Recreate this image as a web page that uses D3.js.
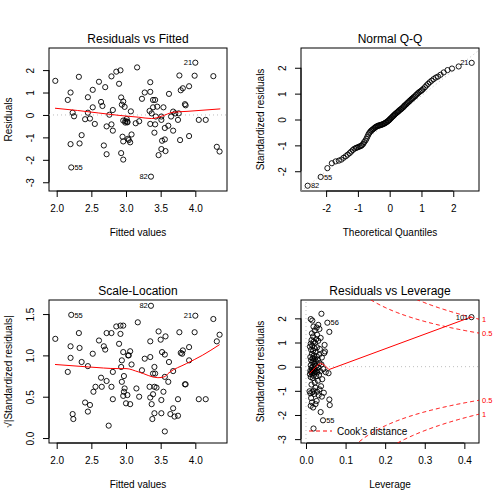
<!DOCTYPE html>
<html><head><meta charset="utf-8">
<script src="https://cdn.jsdelivr.net/npm/d3@7"></script>
<style>body{margin:0;background:#fff}svg{display:block;background:#fff}</style>
</head><body><svg id="c" width="504" height="504"></svg>
<script>
// ---------- DATA ----------
// Panel 1: Residuals vs Fitted
const fittedVals = [1.98,2.20,2.16,2.23,2.25,2.20,2.21,2.32,2.45,2.45,
  2.41,2.36,2.33,2.52,2.52,2.48,2.55,2.61,2.64,2.66,
  2.70,2.68,2.72,2.72,2.76,2.81,2.79,2.86,2.92,2.90,
  2.79,2.81,2.93,2.96,2.94,2.98,2.96,2.99,3.01,3.02,
  2.95,2.96,3.03,3.04,3.06,3.08,3.07,2.93,2.96,3.16,
  3.14,3.19,3.23,3.27,3.35,3.35,3.34,3.35,3.37,3.39,
  3.39,3.42,3.43,3.45,3.42,3.41,3.36,3.47,3.51,3.51,
  3.51,3.52,3.56,3.54,3.56,3.57,3.62,3.61,3.65,3.68,
  3.68,3.71,3.75,3.76,3.77,3.79,3.82,3.78,3.85,3.86,
  3.91,3.91,4.00,3.99,4.05,4.15,4.26,4.31,4.35,2.99,3.02];
const residVals = [1.52,1.00,0.67,0.10,-0.06,-1.30,-2.34,1.70,0.79,0.10,
  -0.19,-0.90,-1.27,1.12,0.34,-0.16,-0.40,1.48,0.58,0.40,
  1.24,-1.36,-1.75,-0.51,0.01,0.22,1.72,1.93,1.99,1.39,
  -0.42,-0.70,0.78,0.60,0.46,0.36,-0.25,-0.34,-0.18,-0.33,
  -0.97,-1.18,-1.06,-1.12,-1.22,-0.87,0.16,-1.70,-1.99,2.12,
  -0.37,-0.28,0.72,1.00,1.46,1.03,0.18,-0.40,0.07,0.34,
  0.67,0.67,-0.07,0.37,-0.42,-0.79,-2.75,-1.79,-0.07,-0.22,
  -1.52,-1.15,-1.09,0.34,-0.58,-1.61,0.94,-0.48,-0.07,0.15,
  -0.70,0.07,-0.22,0.07,1.76,1.10,1.19,-1.12,0.48,0.43,
  1.28,-0.94,2.33,1.75,-0.22,-0.22,1.73,-1.42,-1.63,-0.27,-0.30];
const residLabels = [[6,"55"],[66,"82"],[92,"21"]]; // [index, label]
const residSmoothX = [1.976,2.30,2.60,2.90,3.18,3.37,3.51,3.68,3.88,4.36];
const residSmoothY = [0.30,0.20,0.09,-0.02,-0.10,-0.16,-0.06,0.12,0.16,0.27];

// Panel 2: Normal Q-Q
const qqTheo = [-2.58,-2.17,-1.96,-1.82,-1.70,-1.60,-1.52,-1.45,-1.38,-1.32,
  -1.26,-1.21,-1.16,-1.11,-1.06,-1.02,-0.98,-0.94,-0.90,-0.87,
  -0.83,-0.80,-0.76,-0.73,-0.70,-0.67,-0.64,-0.61,-0.58,-0.55,
  -0.52,-0.49,-0.46,-0.44,-0.41,-0.38,-0.36,-0.33,-0.30,-0.28,
  -0.25,-0.23,-0.20,-0.17,-0.15,-0.12,-0.10,-0.07,-0.05,-0.02,0.00,
  0.02,0.05,0.07,0.10,0.12,0.15,0.17,0.20,0.23,0.25,
  0.28,0.30,0.33,0.36,0.38,0.41,0.44,0.46,0.49,0.52,
  0.55,0.58,0.61,0.64,0.67,0.70,0.73,0.76,0.80,0.83,
  0.87,0.90,0.94,0.98,1.02,1.06,1.11,1.16,1.21,1.26,
  1.32,1.38,1.45,1.52,1.60,1.70,1.82,1.96,2.17,2.58];
const qqStd = [-2.56,-2.22,-1.88,-1.69,-1.62,-1.59,-1.55,-1.48,-1.42,-1.36,
  -1.30,-1.24,-1.18,-1.13,-1.10,-1.08,-1.06,-1.04,-1.02,-0.99,
  -0.94,-0.87,-0.81,-0.74,-0.66,-0.58,-0.52,-0.47,-0.43,-0.40,
  -0.37,-0.34,-0.31,-0.29,-0.27,-0.25,-0.24,-0.23,-0.22,-0.21,
  -0.20,-0.19,-0.17,-0.16,-0.14,-0.12,-0.10,-0.08,-0.05,-0.03,0.00,
  0.03,0.06,0.09,0.12,0.15,0.18,0.21,0.24,0.27,0.29,
  0.32,0.35,0.38,0.40,0.43,0.46,0.49,0.53,0.56,0.59,
  0.63,0.66,0.70,0.73,0.77,0.80,0.83,0.87,0.90,0.95,
  0.99,1.03,1.07,1.10,1.14,1.19,1.25,1.32,1.38,1.44,
  1.50,1.56,1.62,1.66,1.73,1.82,1.91,1.97,2.05,2.19];
const qqLabels = [[0,"82"],[1,"55"],[100,"21"]];
const qqLineX = [-2.79, 2.81];
const qqLineY = [-2.77, 2.68];

// Panel 3: Scale-Location
const slFitted = [1.98,2.20,2.20,2.16,2.23,2.24,2.21,2.32,2.33,2.36,
  2.45,2.41,2.45,2.48,2.52,2.53,2.56,2.61,2.64,2.65,
  2.68,2.70,2.72,2.72,2.75,2.79,2.81,2.79,2.81,2.86,
  2.92,2.96,2.90,2.92,2.96,2.94,2.93,2.97,2.94,2.98,
  2.97,2.96,3.00,3.02,3.03,3.04,3.06,3.08,3.06,3.17,
  3.15,3.19,3.23,3.27,3.35,3.35,3.34,3.35,3.37,3.38,
  3.39,3.39,3.41,3.42,3.41,3.44,3.41,3.36,3.47,3.50,
  3.51,3.51,3.52,3.56,3.54,3.56,3.57,3.56,3.62,3.61,
  3.64,3.68,3.68,3.70,3.75,3.75,3.77,3.79,3.81,3.82,
  3.85,3.86,3.91,3.91,4.00,3.99,4.05,4.15,4.26,4.31,4.35];
const slSqrt = [1.20,1.11,0.97,0.80,0.29,0.23,1.49,1.27,1.09,0.92,
  0.87,0.43,0.32,0.40,1.02,0.56,0.62,1.18,0.73,0.62,
  1.11,1.07,1.27,0.69,0.15,0.62,0.80,1.27,0.47,1.35,
  1.36,1.36,1.14,1.26,1.04,0.94,0.86,0.75,0.68,0.60,
  0.56,0.51,0.42,0.52,1.00,1.00,1.05,0.89,0.41,1.40,
  0.60,0.50,0.82,0.96,1.17,0.98,0.62,0.49,0.41,0.23,
  0.53,0.78,0.86,0.78,0.62,0.61,0.30,1.60,1.29,1.19,
  0.46,0.30,1.04,1.01,0.56,0.74,1.23,0.08,0.92,0.68,
  0.29,0.81,0.36,0.26,0.47,0.27,1.28,1.03,1.02,1.06,
  0.65,0.65,1.10,0.94,1.48,1.28,0.47,0.47,1.44,1.17,1.25];
const slLabels = [[6,"55"],[67,"82"],[94,"21"]];
const slSmoothX = [1.976,2.46,2.89,3.00,3.18,3.46,3.55,3.62,3.87,4.10,4.35];
const slSmoothY = [0.89,0.86,0.84,0.84,0.80,0.73,0.74,0.79,0.90,1.00,1.13];

// Panel 4: Residuals vs Leverage
const levStd = [-2.56,-2.22,-1.88,-1.69,-1.62,-1.59,-1.55,-1.48,-1.42,-1.36,
  -1.30,-1.24,-1.18,-1.13,-1.10,-1.08,-1.06,-1.04,-1.02,-0.99,
  -0.94,-0.87,-0.81,-0.74,-0.66,-0.58,-0.52,-0.47,-0.43,-0.40,
  -0.37,-0.34,-0.31,-0.29,-0.27,-0.25,-0.24,-0.23,-0.22,-0.21,
  -0.20,-0.19,-0.17,-0.16,-0.14,-0.12,-0.10,-0.08,-0.05,-0.03,0.00,
  0.03,0.06,0.09,0.12,0.15,0.18,0.21,0.24,0.27,0.29,
  0.32,0.35,0.38,0.40,0.43,0.46,0.49,0.53,0.56,0.59,
  0.63,0.66,0.70,0.73,0.77,0.80,0.83,0.87,0.90,0.95,
  0.99,1.03,1.07,1.10,1.14,1.19,1.25,1.32,1.38,1.44,
  1.50,1.56,1.62,1.66,1.73,1.82,1.91,1.97,2.05,2.19];
const levHat = [0.019,0.043,0.037,0.018,0.012,0.060,0.024,0.015,0.027,0.059,
  0.013,0.040,0.032,0.021,0.011,0.045,0.016,0.028,0.009,0.019,
  0.034,0.024,0.038,0.014,0.022,0.030,0.041,0.017,0.012,0.026,
  0.019,0.033,0.010,0.015,0.057,0.021,0.028,0.050,0.013,0.017,
  0.024,0.036,0.011,0.020,0.029,0.016,0.044,0.022,0.014,0.031,0.018,
  0.026,0.012,0.039,0.021,0.034,0.016,0.025,0.019,0.013,0.030,
  0.022,0.017,0.040,0.011,0.027,0.020,0.033,0.015,0.046,0.024,
  0.048,0.018,0.013,0.035,0.021,0.028,0.010,0.016,0.047,0.012,
  0.023,0.019,0.031,0.014,0.026,0.037,0.018,0.028,0.015,0.059,
  0.022,0.034,0.027,0.019,0.031,0.054,0.016,0.012,0.418,0.039];
const levLabels = [[1,"55"],[96,"56"],[99,"101"]];
const levSmoothX = [0.009,0.020,0.030,0.037,0.047,0.058,0.418];
const levSmoothY = [-0.28,-0.10,0.07,0.14,0.06,-0.12,2.06];
const cookLevels = [0.5, 1];
const nParams = 3;

// ---------- DRAWING ----------
const FONT = "'Liberation Sans', Arial, Helvetica, sans-serif";
const svg = d3.select("#c");
svg.append("rect").attr("width",504).attr("height",504).attr("fill","#fff");
const f1 = d => d.toFixed(1);
const f0 = d => String(d);

function makePanel(o){
  const g = svg.append("g");
  const x = d3.scaleLinear().domain(o.xd).range([o.l, o.r]);
  const y = d3.scaleLinear().domain(o.yd).range([o.b, o.t]);
  const cid = "clip" + o.id;
  svg.append("clipPath").attr("id", cid).append("rect")
    .attr("x", o.l).attr("y", o.t).attr("width", o.r - o.l).attr("height", o.b - o.t);
  g.append("rect").attr("x", o.l).attr("y", o.t).attr("width", o.r - o.l).attr("height", o.b - o.t)
    .attr("fill", "none").attr("stroke", "#000").attr("stroke-width", 1);
  const xa = g.append("g").attr("transform", `translate(0,${o.b})`)
    .call(d3.axisBottom(x).tickValues(o.xt).tickSize(6).tickPadding(8).tickFormat(o.xf));
  xa.select(".domain").remove();
  xa.append("line").attr("x1", x(o.xt[0])).attr("x2", x(o.xt[o.xt.length-1])).attr("stroke", "#000");
  xa.selectAll("text").attr("font-size", 10).attr("font-family", FONT).attr("fill", "#000");
  xa.selectAll("line").attr("stroke", "#000");
  const ya = g.append("g").attr("transform", `translate(${o.l},0)`)
    .call(d3.axisLeft(y).tickValues(o.yt).tickSize(6).tickFormat(""));
  ya.select(".domain").remove();
  ya.selectAll(".tick text").remove();
  ya.append("line").attr("y1", y(o.yt[0])).attr("y2", y(o.yt[o.yt.length-1])).attr("stroke", "#000");
  ya.selectAll("line").attr("stroke", "#000");
  ya.selectAll(".tick").append("text")
    .attr("transform", "translate(-15,0) rotate(-90)")
    .attr("text-anchor", "middle").attr("font-size", 10).attr("font-family", FONT).attr("fill", "#000")
    .text(d => o.yf(d));
  g.append("text").attr("x", (o.l + o.r) / 2).attr("y", o.t - 5).attr("text-anchor", "middle")
    .attr("font-size", 12).attr("font-family", FONT).attr("fill", "#000").text(o.title);
  g.append("text").attr("x", (o.l + o.r) / 2).attr("y", o.b + 44.5).attr("text-anchor", "middle")
    .attr("font-size", 10).attr("font-family", FONT).attr("fill", "#000").text(o.xlab);
  g.append("text").attr("transform", `translate(${o.l - 37},${(o.t + o.b) / 2}) rotate(-90)`)
    .attr("text-anchor", "middle").attr("font-size", 10).attr("font-family", FONT).attr("fill", "#000").text(o.ylab);
  const plot = g.append("g").attr("clip-path", `url(#${cid})`);
  return {g, plot, x, y};
}

function dotted(plot, x, y, xs, ys){
  plot.append("path").attr("d", d3.line()(xs.map((v,i)=>[x(v), y(ys[i])])))
    .attr("fill","none").attr("stroke","#bebebe").attr("stroke-width",1).attr("stroke-dasharray","1,3");
}
function points(plot, x, y, xs, ys){
  plot.selectAll(null).data(xs.map((v,i)=>[v, ys[i]])).enter().append("circle")
    .attr("cx", d => x(d[0])).attr("cy", d => y(d[1])).attr("r", 2.6)
    .attr("fill", "none").attr("stroke", "#000").attr("stroke-width", 0.9);
}
function smooth(plot, x, y, xs, ys, curve){
  plot.append("path").attr("d", d3.line().curve(curve || d3.curveMonotoneX)(xs.map((v,i)=>[x(v), y(ys[i])])))
    .attr("fill","none").attr("stroke","#ff0000").attr("stroke-width",1);
}
function idLabels(g, x, y, xs, ys, labs, sides){
  labs.forEach(([i, t], k) => {
    const left = sides[k] === "L";
    g.append("text").attr("x", x(xs[i]) + (left ? -3.2 : 3.2)).attr("y", y(ys[i]))
      .attr("dy", "0.35em").attr("text-anchor", left ? "end" : "start")
      .attr("font-size", 7.5).attr("font-family", FONT).attr("fill", "#000").text(t);
  });
}

// Panel 1
{
  const p = makePanel({id:1, l:49, r:227, t:48, b:191, xd:[1.889,4.457], yd:[-3.39,2.985],
    xt:[2.0,2.5,3.0,3.5,4.0], yt:[-3,-2,-1,0,1,2], xf:f1, yf:f0,
    title:"Residuals vs Fitted", xlab:"Fitted values", ylab:"Residuals"});
  dotted(p.plot, p.x, p.y, [1.889,4.457], [0,0]);
  points(p.plot, p.x, p.y, fittedVals, residVals);
  smooth(p.plot, p.x, p.y, residSmoothX, residSmoothY);
  idLabels(p.g, p.x, p.y, fittedVals, residVals, residLabels, ["R","L","L"]);
}
// Panel 2
{
  const p = makePanel({id:2, l:301, r:479, t:48, b:191, xd:[-2.79,2.81], yd:[-2.764,2.764],
    xt:[-2,-1,0,1,2], yt:[-2,-1,0,1,2], xf:f0, yf:f0,
    title:"Normal Q-Q", xlab:"Theoretical Quantiles", ylab:"Standardized residuals"});
  dotted(p.plot, p.x, p.y, qqLineX, qqLineY);
  points(p.plot, p.x, p.y, qqTheo, qqStd);
  idLabels(p.g, p.x, p.y, qqTheo, qqStd, qqLabels, ["R","R","L"]);
}
// Panel 3
{
  const p = makePanel({id:3, l:49, r:227, t:300, b:443, xd:[1.889,4.457], yd:[-0.06,1.67],
    xt:[2.0,2.5,3.0,3.5,4.0], yt:[0,0.5,1.0,1.5], xf:f1, yf:f1,
    title:"Scale-Location", xlab:"Fitted values", ylab:"\u221A|Standardized residuals|"});
  points(p.plot, p.x, p.y, slFitted, slSqrt);
  smooth(p.plot, p.x, p.y, slSmoothX, slSmoothY);
  idLabels(p.g, p.x, p.y, slFitted, slSqrt, slLabels, ["R","L","L"]);
}
// Panel 4
{
  const xd = [-0.0126, 0.437];
  const p = makePanel({id:4, l:301, r:479, t:300, b:443, xd:xd, yd:[-3.16,2.76],
    xt:[0,0.1,0.2,0.3,0.4], yt:[-3,-2,-1,0,1,2], xf:f1, yf:f0,
    title:"Residuals vs Leverage", xlab:"Leverage", ylab:"Standardized residuals"});
  dotted(p.plot, p.x, p.y, xd, [0,0]);
  dotted(p.plot, p.x, p.y, [0,0], [-3.16,2.76]);
  points(p.plot, p.x, p.y, levHat, levStd);
  // Cook's distance contour reference curves
  const hh = d3.range(0.003, xd[1] + 0.0005, 0.002);
  cookLevels.forEach(c => {
    [1,-1].forEach(s => {
      const pts = hh.map(h => [p.x(h), p.y(s * Math.sqrt(c * nParams * (1 - h) / h))]);
      p.plot.append("path").attr("d", d3.line()(pts)).attr("fill","none")
        .attr("stroke","#ff0000").attr("stroke-width",1).attr("stroke-dasharray","4,3");
      const yv = s * Math.sqrt(c * nParams * (1 - xd[1]) / xd[1]);
      p.g.append("text").attr("x", 482).attr("y", p.y(yv)).attr("dy","0.35em")
        .attr("font-size", 7.5).attr("font-family", FONT).attr("fill","#ff0000").text(String(c));
    });
  });
  smooth(p.plot, p.x, p.y, levSmoothX, levSmoothY, d3.curveLinear);
  idLabels(p.g, p.x, p.y, levHat, levStd, levLabels, ["R","R","L"]);
  p.g.append("line").attr("x1",309).attr("x2",332).attr("y1",431).attr("y2",431)
    .attr("stroke","#ff0000").attr("stroke-dasharray","4,3");
  p.g.append("text").attr("x",337).attr("y",434.5).attr("font-size",10).attr("font-family",FONT)
    .attr("fill","#000").text("Cook's distance");
}
</script></body></html>
